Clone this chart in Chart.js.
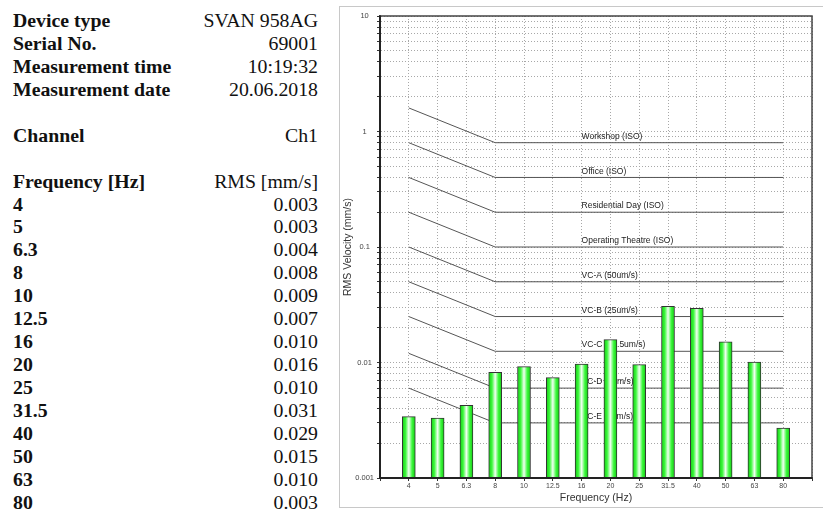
<!DOCTYPE html>
<html>
<head>
<meta charset="utf-8">
<script src="https://cdn.jsdelivr.net/npm/chart.js@4"></script>
<style>
  html, body { margin: 0; padding: 0; background: #fff; }
  body { width: 823px; height: 512px; position: relative; overflow: hidden; }
  #info {
    position: absolute; left: 13px; top: 9px; width: 305px;
    font-family: "Liberation Serif", "Times New Roman", serif;
    font-size: 19.8px; color: #111;
  }
  #info .row { display: flex; justify-content: space-between; height: 22.95px; line-height: 22.95px; white-space: nowrap; }
  #info .row b { font-weight: bold; }
  #frame {
    position: absolute; left: 339px; top: 6px; width: 500px; height: 502px;
    border: 1px solid #c8c8c8; box-sizing: border-box;
  }
  #wrap { position: absolute; left: 340px; top: 5px; width: 482px; height: 505px; }
</style>
</head>
<body>
<div id="info"></div>
<div id="frame"></div>
<div id="wrap"><canvas id="chart"></canvas></div>
<script>
// header rows of the info table
const infoRows = [
  ['Device type', 'SVAN 958AG'],
  ['Serial No.', '69001'],
  ['Measurement time', '10:19:32'],
  ['Measurement date', '20.06.2018'],
  null,
  ['Channel', 'Ch1'],
  null,
  ['Frequency [Hz]', 'RMS [mm/s]']
];

// 1/3 octave bands and measured RMS velocity (mm/s)
const freqLabels = ['4', '5', '6.3', '8', '10', '12.5', '16', '20', '25', '31.5', '40', '50', '63', '80'];
const rmsValues = [0.0034, 0.0033, 0.00425, 0.0082, 0.0092, 0.0074, 0.0097, 0.0158, 0.0096, 0.0307, 0.0294, 0.0151, 0.0101, 0.0027];

// vibration criterion curves: level at 4 Hz, flat level from 8 Hz up
const critNames = ['Workshop (ISO)', 'Office (ISO)', 'Residential Day (ISO)', 'Operating Theatre (ISO)',
  'VC-A (50um/s)', 'VC-B (25um/s)', 'VC-C (12.5um/s)', 'VC-D (6um/s)', 'VC-E (3um/s)'];
const critAt4Hz = [1.6, 0.8, 0.4, 0.2, 0.1, 0.05, 0.025, 0.012, 0.006];
const critLevels = [0.8, 0.4, 0.2, 0.1, 0.05, 0.025, 0.0125, 0.006, 0.003];

// y axis decades and their labels
const yDecades = [0.001, 0.01, 0.1, 1, 10];
const yTickLabels = ['0.001', '0.01', '0.1', '1', '10'];

// fill the info table
const info = document.getElementById('info');
const allRows = infoRows.concat(freqLabels.map((f, i) => [f, rmsValues[i].toFixed(3)]));
allRows.forEach((r) => {
  const div = document.createElement('div');
  div.className = 'row';
  if (r) div.innerHTML = '<b>' + r[0] + '</b><span>' + r[1] + '</span>';
  info.appendChild(div);
});

const chartFont = 'Liberation Sans, Arial, sans-serif';

// box around the plot, criterion labels and the bar shading (drawn under the bars)
const boxPlugin = {
  id: 'boxPlugin',
  beforeDatasetDraw(chart, args) {
    if (args.index !== 0) return;
    const ctx = chart.ctx;
    ctx.save();
    ctx.font = '8.5px ' + chartFont;
    ctx.fillStyle = '#222';
    ctx.textAlign = 'left';
    ctx.textBaseline = 'bottom';
    const x = chart.scales.x.getPixelForValue(7);
    critNames.forEach((name, i) => {
      ctx.fillText(name, x, chart.scales.y.getPixelForValue(critLevels[i]) - 2);
    });
    ctx.restore();
    // green bars with a light stripe in the middle
    args.meta.data.forEach((el) => {
      const half = el.width / 2;
      const g = ctx.createLinearGradient(el.x - half, 0, el.x + half, 0);
      g.addColorStop(0, '#14cc14');
      g.addColorStop(0.25, '#3cf83c');
      g.addColorStop(0.5, '#f2fff2');
      g.addColorStop(0.75, '#3cf83c');
      g.addColorStop(1, '#14cc14');
      el.options = Object.assign({}, el.options, { backgroundColor: g });
    });
  },
  afterDraw(chart) {
    const a = chart.chartArea;
    const ctx = chart.ctx;
    ctx.save();
    ctx.strokeStyle = '#444';
    ctx.lineWidth = 1.5;
    ctx.strokeRect(a.left, a.top, a.right - a.left, a.bottom - a.top);
    ctx.strokeStyle = '#222';
    ctx.lineWidth = 2;
    ctx.beginPath();
    ctx.moveTo(a.left, a.top);
    ctx.lineTo(a.left, a.bottom);
    ctx.lineTo(a.right, a.bottom);
    ctx.stroke();
    ctx.restore();
  }
};

const critSets = critNames.map((name, i) => ({
  type: 'line',
  label: name,
  xAxisID: 'x',
  data: [{ x: 1, y: critAt4Hz[i] }, { x: 4, y: critLevels[i] }, { x: 14, y: critLevels[i] }],
  borderColor: '#555',
  borderWidth: 1,
  pointRadius: 0,
  fill: false,
  order: 1
}));

new Chart(document.getElementById('chart'), {
  type: 'bar',
  data: {
    datasets: [{
      label: 'RMS',
      xAxisID: 'xb',
      data: freqLabels.map((f, i) => ({ x: i + 1, y: rmsValues[i] })),
      backgroundColor: '#44ee44',
      borderColor: '#333',
      borderWidth: 1,
      barThickness: 13,
      order: 0
    }].concat(critSets)
  },
  options: {
    responsive: true,
    maintainAspectRatio: false,
    animation: false,
    layout: { padding: { top: 11, right: 10, left: 0, bottom: 0 } },
    plugins: { legend: { display: false }, tooltip: { enabled: false } },
    scales: {
      x: {
        type: 'linear',
        min: 0,
        max: 15,
        offset: false,
        afterFit: (s) => { s.height = 32; },
        ticks: {
          stepSize: 1,
          autoSkip: false,
          maxRotation: 0,
          padding: 1,
          color: '#444',
          font: { family: chartFont, size: 7 },
          callback: (v) => freqLabels[v - 1] || ''
        },
        grid: { offset: false, color: '#a8a8a8', tickLength: 3, tickColor: '#333', tickBorderDash: [] },
        border: { display: true, color: '#222', width: 2, dash: [1, 2] },
        title: { display: true, text: 'Frequency (Hz)', color: '#333', padding: { top: 0, bottom: 6 }, font: { family: chartFont, size: 10.5 } }
      },
      xb: {
        type: 'linear',
        display: false,
        offset: false,
        min: -0.226,
        max: 14.774
      },
      y: {
        type: 'logarithmic',
        min: 0.001,
        max: 10,
        afterFit: (s) => { s.width = 40; },
        afterBuildTicks: (s) => {
          const t = [];
          for (let d = 0; d < yDecades.length - 1; d++) {
            for (let m = 1; m <= 9; m++) t.push({ value: m * yDecades[d] });
          }
          t.push({ value: yDecades[yDecades.length - 1] });
          s.ticks = t;
        },
        ticks: {
          autoSkip: false,
          crossAlign: 'center',
          padding: 3,
          color: '#444',
          font: { family: chartFont, size: 7.5 },
          callback: (v) => {
            const k = yDecades.findIndex((d) => Math.abs(d - v) < d * 1e-6);
            return k >= 0 ? yTickLabels[k] : '';
          }
        },
        grid: { color: '#a8a8a8', tickLength: 3, tickColor: '#333', tickBorderDash: [] },
        border: { display: true, color: '#222', width: 2, dash: [1, 2] },
        title: { display: true, text: 'RMS Velocity (mm/s)', color: '#333', padding: { top: 2, bottom: 0 }, font: { family: chartFont, size: 10.5 } }
      }
    }
  },
  plugins: [boxPlugin]
});
</script>
</body>
</html>
